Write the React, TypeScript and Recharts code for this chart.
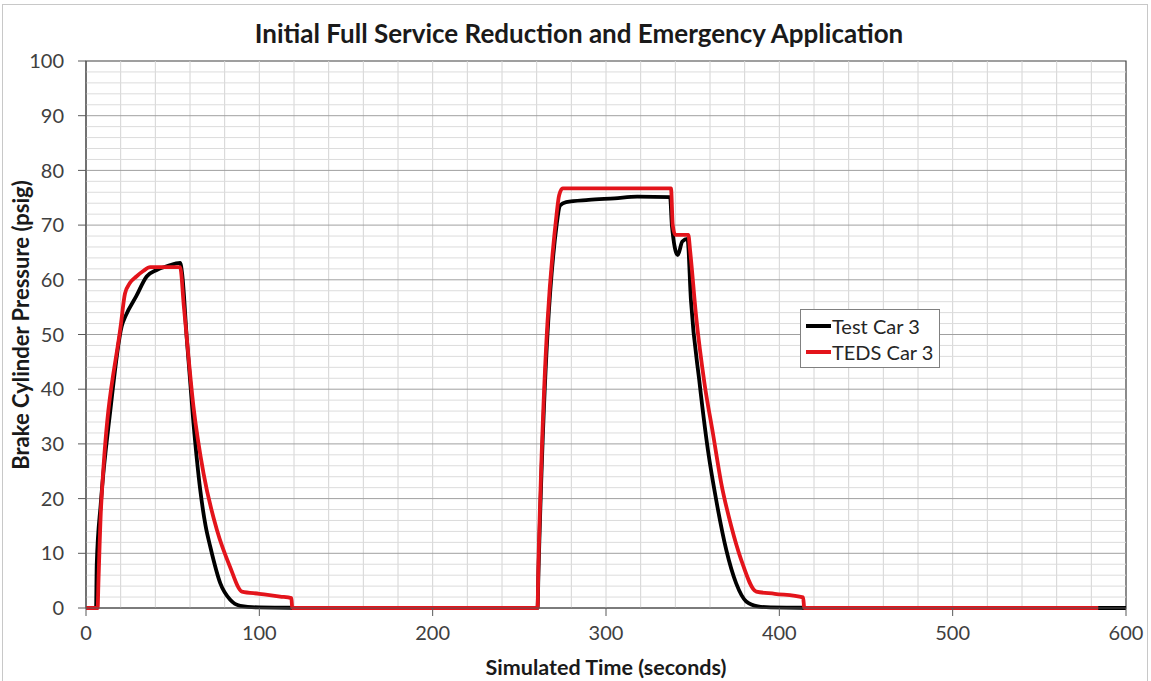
import React from 'react';
import { LineChart, Line, XAxis, YAxis, ReferenceLine, ReferenceArea } from 'recharts';

const testTime = [0, 5.8, 6.2, 8.5, 14, 20.6, 23, 29, 35, 40.8, 47, 54.3, 55.5, 58.2, 62, 65.9, 69, 71.7, 77.5, 83.2, 89, 100, 118, 119, 260.5, 261, 271.5, 273.5, 277, 290, 305, 318, 337, 338, 341.4, 344, 347, 349, 354, 358.8, 363.6, 369.4, 375.1, 380.9, 387.6, 395, 413, 414, 600];
const testPressure = [0, 0, 8, 19, 36, 51.5, 53.5, 57, 60.6, 61.8, 62.5, 63.1, 61, 49, 33.8, 21.6, 15, 11.2, 4.5, 1.5, 0.4, 0.1, 0.05, 0, 0, 6, 70, 73.6, 74.2, 74.6, 74.9, 75.2, 75.1, 70, 64.5, 67, 67.5, 56.3, 41.1, 28.9, 19.7, 10.6, 4.5, 1.2, 0.3, 0.1, 0.05, 0, 0];

const tedsTime = [0, 6.7, 7.2, 8.7, 20.2, 22.5, 25.3, 29.1, 33, 37, 54.3, 56.5, 62, 67.8, 75.5, 83, 90, 100, 112, 118.5, 119, 260.5, 261, 271.5, 273, 275, 337.5, 338.5, 340, 347.5, 348.5, 352, 356.8, 361.7, 366.5, 372.3, 378, 386.7, 397.4, 413.7, 414.4, 584];
const tedsPressure = [0, 0, 5, 18.5, 52, 57.5, 59.4, 60.6, 61.6, 62.3, 62.3, 55, 36.8, 24.6, 14.3, 7.6, 3, 2.6, 2.1, 1.8, 0, 0, 8, 72, 75.5, 76.7, 76.7, 70, 68.2, 68.2, 65.4, 53.3, 41.1, 31.9, 22.8, 14.9, 8.8, 3, 2.6, 1.95, 0, 0];

const xTicks = [0, 100, 200, 300, 400, 500, 600];
const yTicks = [0, 10, 20, 30, 40, 50, 60, 70, 80, 90, 100];
const minorX = [20, 40, 60, 80, 100, 120, 140, 160, 180, 200, 220, 240, 260, 280, 300, 320, 340, 360, 380, 400, 420, 440, 460, 480, 500, 520, 540, 560, 580];
const minorY = [2, 4, 6, 8, 12, 14, 16, 18, 22, 24, 26, 28, 32, 34, 36, 38, 42, 44, 46, 48, 52, 54, 56, 58, 62, 64, 66, 68, 72, 74, 76, 78, 82, 84, 86, 88, 92, 94, 96, 98];
const majorY = [10, 20, 30, 40, 50, 60, 70, 80, 90];

const seriesNames = ['Test Car 3', 'TEDS Car 3'];
const seriesColors = ['#000000', '#e3141b'];

const testData = testTime.map((t, i) => ({ t, p: testPressure[i] }));
const tedsData = tedsTime.map((t, i) => ({ t, p: tedsPressure[i] }));

const FONT = 'Lato, "Open Sans", sans-serif';

export default function App() {
  return (
    <div style={{ position: 'absolute', left: 0, top: 0, width: 1151, height: 681, background: '#fff', overflow: 'hidden' }}>
      <div style={{ position: 'absolute', left: 2, top: 4, width: 1146, height: 690, border: '1px solid #c8c8c8', boxSizing: 'border-box' }} />
      <LineChart width={1151} height={681} margin={{ top: 61, right: 25, bottom: 13, left: 26 }}>
        {minorX.map((v) => (
          <ReferenceLine key={'vx' + v} x={v} stroke="#d4d4d4" strokeWidth={1} />
        ))}
        {minorY.map((v) => (
          <ReferenceLine key={'my' + v} y={v} stroke="#dcdcdc" strokeWidth={1} />
        ))}
        {majorY.map((v) => (
          <ReferenceLine key={'My' + v} y={v} stroke="#a0a0a0" strokeWidth={1} />
        ))}
        <XAxis
          dataKey="t"
          type="number"
          domain={[0, 600]}
          ticks={xTicks}
          allowDataOverflow
          height={60}
          tickSize={8}
          tickMargin={10}
          stroke="#595959"
          tick={{ fill: '#404040', fontSize: 20, fontFamily: FONT }}
        />
        <YAxis
          dataKey="p"
          type="number"
          domain={[0, 100]}
          ticks={yTicks}
          width={60}
          tickSize={8}
          tickMargin={14}
          stroke="#595959"
          tick={{ fill: '#404040', fontSize: 20, fontFamily: FONT }}
        />
        <ReferenceArea x1={0} x2={600} y1={0} y2={100} fill="none" stroke="#404040" strokeWidth={1.2} />
        <Line
          data={testData}
          dataKey="p"
          name={seriesNames[0]}
          type="monotone"
          stroke={seriesColors[0]}
          strokeWidth={3.8}
          dot={false}
          isAnimationActive={false}
        />
        <Line
          data={tedsData}
          dataKey="p"
          name={seriesNames[1]}
          type="monotone"
          stroke={seriesColors[1]}
          strokeWidth={3.8}
          dot={false}
          isAnimationActive={false}
        />
      </LineChart>
      <div
        style={{
          position: 'absolute',
          left: 800,
          top: 309,
          width: 140,
          height: 59,
          border: '1px solid #808080',
          background: '#fff',
          boxSizing: 'border-box',
          fontFamily: FONT,
          fontSize: 20,
          color: '#262626',
          paddingTop: 3,
        }}
      >
        {seriesNames.map((n, i) => (
          <div key={n} style={{ display: 'flex', alignItems: 'center', height: 26, paddingLeft: 5 }}>
            <div style={{ width: 25, height: 4, background: seriesColors[i], marginRight: 1 }} />
            <span>{n}</span>
          </div>
        ))}
      </div>
      <div
        style={{
          position: 'absolute',
          left: 579,
          top: 33,
          transform: 'translate(-50%, -50%)',
          whiteSpace: 'nowrap',
          fontFamily: FONT,
          fontWeight: 700,
          fontSize: 26,
          color: '#1a1a1a',
        }}
      >
        Initial Full Service Reduction and Emergency Application
      </div>
      <div
        style={{
          position: 'absolute',
          left: 606,
          top: 667,
          transform: 'translate(-50%, -50%)',
          whiteSpace: 'nowrap',
          fontFamily: FONT,
          fontWeight: 700,
          fontSize: 21.5,
          color: '#1a1a1a',
        }}
      >
        Simulated Time (seconds)
      </div>
      <div
        style={{
          position: 'absolute',
          left: 20,
          top: 325,
          transform: 'translate(-50%, -50%) rotate(-90deg)',
          whiteSpace: 'nowrap',
          fontFamily: FONT,
          fontWeight: 700,
          fontSize: 22,
          color: '#1a1a1a',
        }}
      >
        Brake Cylinder Pressure (psig)
      </div>
    </div>
  );
}
